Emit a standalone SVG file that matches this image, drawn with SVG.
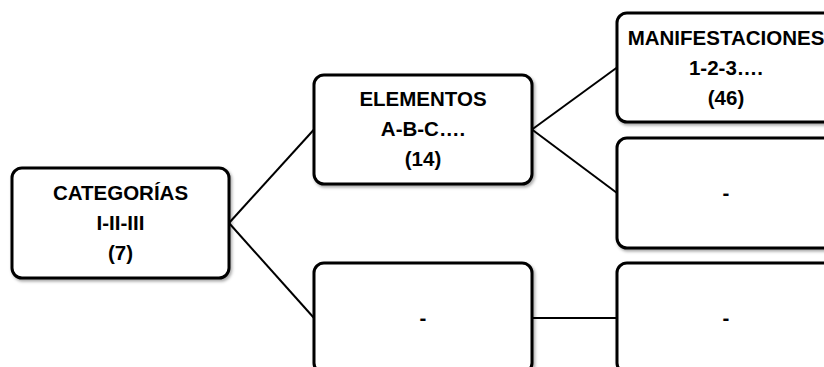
<svg xmlns="http://www.w3.org/2000/svg" width="824" height="367" viewBox="0 0 824 367">
<defs>
<filter id="sh" x="-10%" y="-10%" width="130%" height="130%">
<feDropShadow dx="1.5" dy="2" stdDeviation="1.5" flood-color="#000" flood-opacity="0.35"/>
</filter>
</defs>
<style>
.box{fill:#fff;stroke:#000;stroke-width:3;filter:url(#sh)}
.t{font-family:"Liberation Sans",Arial,sans-serif;font-weight:bold;font-size:20.5px;text-anchor:middle;fill:#000}
.c{stroke:#000;stroke-width:2;fill:none}
</style>
<rect width="824" height="367" fill="#fff"/>
<g id="connectors">
<line class="c" x1="229" y1="223" x2="314" y2="129.5"/>
<line class="c" x1="229" y1="223" x2="314" y2="318"/>
<line class="c" x1="532" y1="129.5" x2="617" y2="67.5"/>
<line class="c" x1="532" y1="129.5" x2="617" y2="193"/>
<line class="c" x1="532" y1="318" x2="617" y2="318"/>
</g>
<g id="categorias">
<rect class="box" x="12" y="168" width="217" height="110" rx="10"/>
<text class="t" x="120.5" y="200">CATEGORÍAS</text>
<text class="t" x="120.5" y="230">I-II-III</text>
<text class="t" x="120.5" y="260">(7)</text>
</g>
<g id="elementos">
<rect class="box" x="314" y="75" width="218" height="109" rx="10"/>
<text class="t" x="423" y="106">ELEMENTOS</text>
<text class="t" x="423" y="136">A-B-C….</text>
<text class="t" x="423" y="166">(14)</text>
</g>
<g id="manifestaciones">
<rect class="box" x="617" y="13" width="218" height="109" rx="10"/>
<text class="t" x="726" y="44.5">MANIFESTACIONES</text>
<text class="t" x="726" y="74.5">1-2-3….</text>
<text class="t" x="726" y="104.5">(46)</text>
</g>
<g id="right-mid">
<rect class="box" x="617" y="138" width="218" height="110" rx="10"/>
<text class="t" x="726" y="200">-</text>
</g>
<g id="bottom-left">
<rect class="box" x="314" y="263" width="218" height="110" rx="10"/>
<text class="t" x="423" y="325">-</text>
</g>
<g id="bottom-right">
<rect class="box" x="617" y="263" width="218" height="110" rx="10"/>
<text class="t" x="726" y="325">-</text>
</g>
</svg>
